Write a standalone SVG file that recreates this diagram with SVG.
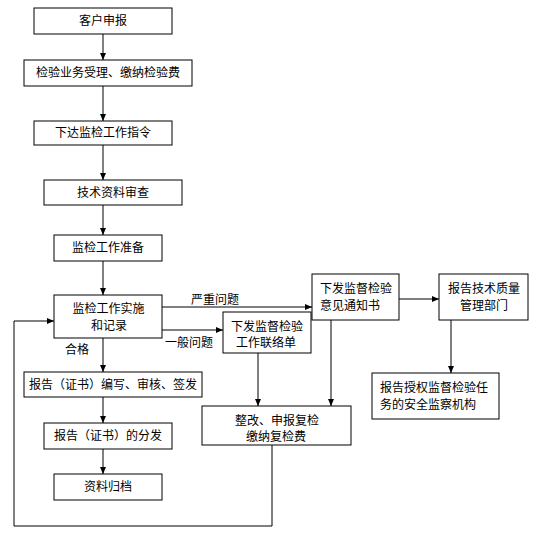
<svg xmlns="http://www.w3.org/2000/svg" width="540" height="536" viewBox="0 0 540 536">
<defs>
<marker id="ah" markerWidth="8" markerHeight="8" refX="7" refY="4" orient="auto" markerUnits="userSpaceOnUse">
<path d="M0,1 L7,4 L0,7 Z" fill="#000"/>
</marker>
<style>
rect{fill:#fff;stroke:#000;stroke-width:1}
text{font-family:"Noto Sans CJK SC","Noto Sans CJK JP",sans-serif;font-size:12px;fill:#000}
.c{text-anchor:middle}
.l{fill:none;stroke:#000;stroke-width:1}
.a{marker-end:url(#ah)}
</style>
</defs>
<rect x="0" y="0" width="540" height="536" style="fill:#fff;stroke:none"/>
<g id="connectors">
<line class="l a" x1="103" y1="34" x2="103" y2="60"/>
<line class="l a" x1="103" y1="86" x2="103" y2="121"/>
<line class="l a" x1="103" y1="145" x2="103" y2="180"/>
<line class="l a" x1="103" y1="205" x2="103" y2="235"/>
<line class="l a" x1="103" y1="261" x2="103" y2="295"/>
<line class="l a" x1="103" y1="338" x2="103" y2="372"/>
<line class="l a" x1="103" y1="397" x2="103" y2="423"/>
<line class="l a" x1="103" y1="449" x2="103" y2="474"/>
<line class="l a" x1="162" y1="307" x2="312" y2="307"/>
<line class="l a" x1="162" y1="330" x2="223" y2="330"/>
<line class="l a" x1="399" y1="299" x2="439" y2="299"/>
<line class="l a" x1="451" y1="320" x2="451" y2="373"/>
<line class="l a" x1="258" y1="353" x2="258" y2="406"/>
<line class="l a" x1="331" y1="320" x2="331" y2="406"/>
<polyline class="l a" points="272,445 272,526 14,526 14,321 54,321"/>
<text x="191" y="304">严重问题</text>
<text x="165" y="347">一般问题</text>
<text x="65" y="354">合格</text>
</g>
<g id="n1"><rect x="34" y="8" width="138" height="26"/><text class="c" x="103" y="25">客户申报</text></g>
<g id="n2"><rect x="24" y="60" width="168" height="26"/><text class="c" x="108" y="77">检验业务受理、缴纳检验费</text></g>
<g id="n3"><rect x="34" y="121" width="138" height="24"/><text class="c" x="103" y="137">下达监检工作指令</text></g>
<g id="n4"><rect x="44" y="180" width="138" height="25"/><text class="c" x="113" y="197">技术资料审查</text></g>
<g id="n5"><rect x="54" y="235" width="108" height="26"/><text class="c" x="108" y="252">监检工作准备</text></g>
<g id="n6"><rect x="54" y="295" width="108" height="43"/><text class="c" x="108.5" y="313">监检工作实施</text><text class="c" x="109" y="330">和记录</text></g>
<g id="n7"><rect x="24" y="372" width="178" height="25"/><text class="c" x="113" y="389">报告（证书）编写、审核、签发</text></g>
<g id="n8"><rect x="44" y="423" width="128" height="26"/><text class="c" x="108" y="440">报告（证书）的分发</text></g>
<g id="n9"><rect x="54" y="474" width="108" height="26"/><text class="c" x="108" y="491">资料归档</text></g>
<g id="n10"><rect x="312" y="274" width="87" height="46"/><text x="320" y="293">下发监督检验</text><text x="320" y="310">意见通知书</text></g>
<g id="n11"><rect x="223" y="312" width="88" height="41"/><text class="c" x="267" y="331">下发监督检验</text><text class="c" x="266" y="347">工作联络单</text></g>
<g id="n12"><rect x="439" y="274" width="89" height="46"/><text class="c" x="484" y="293">报告技术质量</text><text class="c" x="484" y="310">管理部门</text></g>
<g id="n13"><rect x="372" y="373" width="127" height="46"/><text x="380" y="392">报告授权监督检验任</text><text x="380" y="409">务的安全监察机构</text></g>
<g id="n14"><rect x="202" y="406" width="149" height="39"/><text class="c" x="277" y="425">整改、申报复检</text><text class="c" x="276" y="441">缴纳复检费</text></g>
</svg>
